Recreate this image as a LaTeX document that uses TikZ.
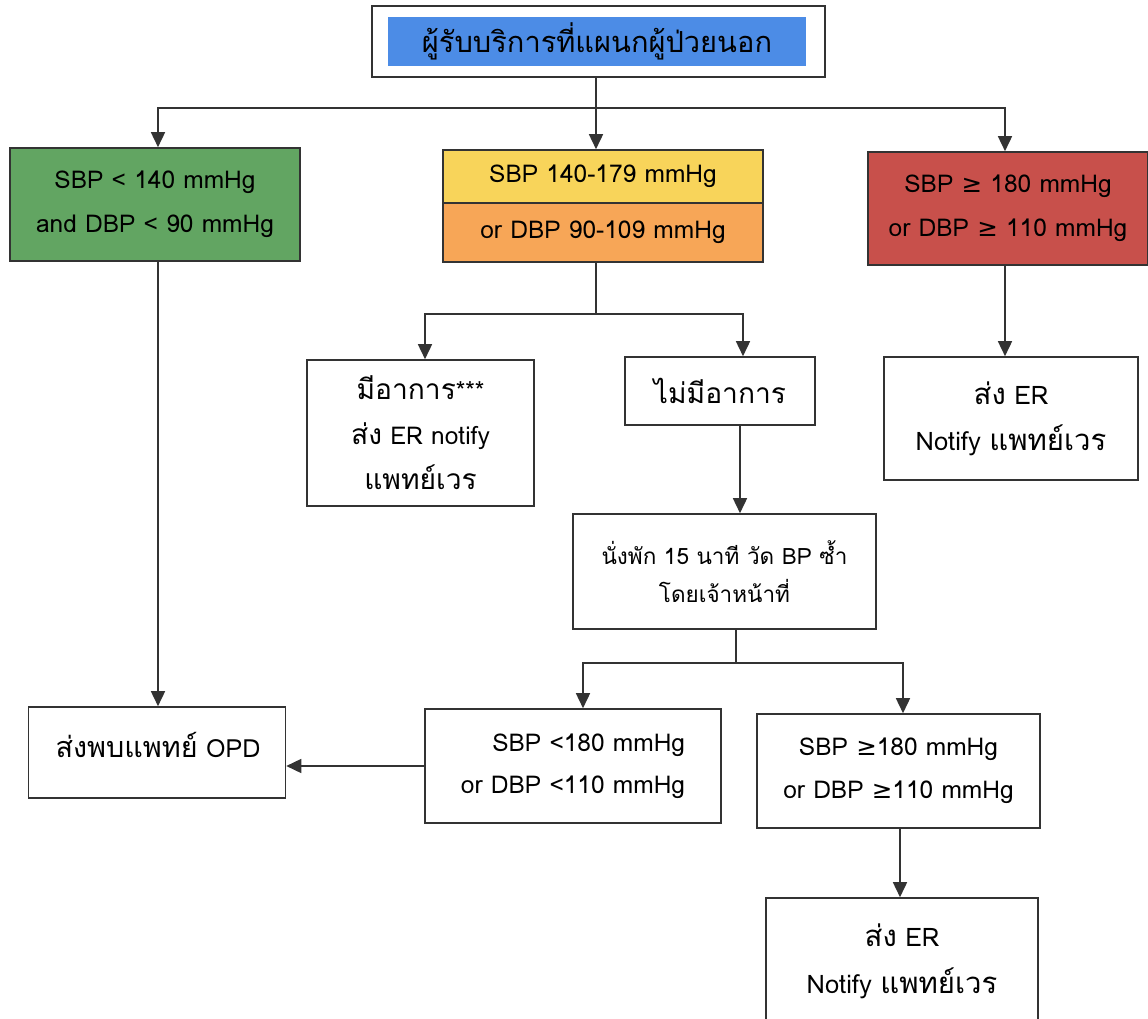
\documentclass[tikz,border=0pt]{standalone}
\usepackage{fontspec}
\setmainfont[Script=Thai]{Loma}
\newfontfamily\thaibig[Script=Thai,Scale=1.15]{Loma}
\newfontfamily\symfont{DejaVu Sans}
\usetikzlibrary{arrows.meta,calc}
\newcommand{\gesym}{{\symfont ≥}}
\newcommand{\tth}[1]{{\thaibig #1}}
\definecolor{linec}{HTML}{333333}
\definecolor{hdrblue}{HTML}{4C8CE6}
\definecolor{lowgreen}{HTML}{62A562}
\definecolor{midyellow}{HTML}{F8D45A}
\definecolor{midorange}{HTML}{F7A657}
\definecolor{highred}{HTML}{C8504B}
\tikzset{
  box/.style={draw=linec, line width=1.6pt, fill=white, align=center, inner sep=0pt,
    font=\fontsize{24.5}{42}\selectfont},
  arr/.style={draw=linec, line width=1.6pt, -{Triangle[length=15pt,width=14pt]}},
  conn/.style={draw=linec, line width=1.6pt},
}
\begin{document}
\begin{tikzpicture}[x=1pt,y=-1pt]
\useasboundingbox (0,0) rectangle (1148,1019);
\clip (0,0) rectangle (1148,1019);
\fill[white] (0,0) rectangle (1148,1019);

% header
\node[box, minimum width=453pt, minimum height=71pt] (top) at (598.5,41.5) {};
\node[fill=hdrblue, minimum width=418pt, minimum height=49pt, inner sep=0pt,
      font=\fontsize{29}{34}\selectfont] (toptext) at (597,41.5) {ผู้รับบริการที่แผนกผู้ป่วยนอก};

% first level
\node[box, fill=lowgreen, minimum width=290pt, minimum height=113pt,
      font=\fontsize{24.5}{44}\selectfont] (low) at (155,204.5)
  {SBP < 140 mmHg\\and DBP < 90 mmHg};
\node[box, fill=midyellow, minimum width=320pt, minimum height=53pt] (mid1) at (603,176.5)
  {SBP 140-179 mmHg};
\node[box, fill=midorange, minimum width=320pt, minimum height=59pt] (mid2) at (603,232.5)
  {or DBP 90-109 mmHg};
\node[box, fill=highred, minimum width=280pt, minimum height=113pt,
      font=\fontsize{24.5}{44}\selectfont] (high) at (1008,208.5)
  {SBP \gesym{} 180 mmHg\\or DBP \gesym{} 110 mmHg};

% second level
\node[box, minimum width=227pt, minimum height=146pt,
      font=\fontsize{24.5}{45}\selectfont] (symp) at (420.5,433)
  {\tth{มีอาการ}***\\\tth{ส่ง} ER notify\\\tth{แพทย์เวร}};
\node[box, minimum width=190pt, minimum height=68pt] (nosymp) at (720,391)
  {\tth{ไม่มีอาการ}};
\node[box, minimum width=254pt, minimum height=123pt,
      font=\fontsize{25.5}{46}\selectfont] (erhigh) at (1011,418.5)
  {\tth{ส่ง} ER\\Notify \tth{แพทย์เวร}};

% re-measure
\node[box, minimum width=303pt, minimum height=115pt,
      font=\fontsize{22.5}{38}\selectfont] (rest) at (724.5,571.5)
  {นั่งพัก 15 นาที วัด BP ซ้ำ\\โดยเจ้าหน้าที่};

% outcomes
\node[box, minimum width=257pt, minimum height=91pt] (opd) at (157,752.5) {};
\node[inner sep=0pt, font=\fontsize{25}{42}\selectfont] (opdtext) at (158,745)
  {\tth{ส่งพบแพทย์} OPD};
\node[box, align=right, minimum width=296pt, minimum height=114pt,
      font=\fontsize{24.5}{42}\selectfont] (below) at (573,766)
  {SBP <180 mmHg\\or DBP <110 mmHg};
\node[box, minimum width=283pt, minimum height=114pt,
      font=\fontsize{24.5}{43}\selectfont] (above) at (898.5,771)
  {SBP \gesym180 mmHg\\or DBP \gesym110 mmHg};
\node[box, minimum width=272pt, minimum height=126pt,
      font=\fontsize{25.5}{47}\selectfont] (erlow) at (902,961)
  {\tth{ส่ง} ER\\Notify \tth{แพทย์เวร}};

% connectors
\coordinate (j1) at (596,108);
\draw[conn] (top.south -| j1) -- (j1);
\draw[arr] (j1) -| ($(low.north)+(3,0)$);
\draw[arr] (j1) -- (mid1.north -| j1);
\draw[arr] (j1) -| ($(high.north)+(-3,0)$);

\draw[arr] ($(low.south)+(3,0)$) -- ($(opd.north)+(1,0)$);

\coordinate (j2) at (596,314);
\draw[conn] (mid2.south -| j2) -- (j2);
\draw[arr] (j2) -| ($(symp.north)+(4.5,0)$);
\draw[arr] (j2) -| ($(nosymp.north)+(23,0)$);

\draw[arr] ($(high.south)+(-3,0)$) -- ($(erhigh.north)+(-6,0)$);
\draw[arr] ($(nosymp.south)+(20,0)$) -- ($(rest.north)+(15.5,0)$);

\coordinate (j3) at (736,663);
\draw[conn] (rest.south -| j3) -- (j3);
\draw[arr] (j3) -| ($(below.north)+(10,0)$);
\draw[arr] (j3) -| ($(above.north)+(4.5,0)$);

\draw[arr] (below.west) -- (opd.east |- below.west);
\draw[arr] ($(above.south)+(1.5,0)$) -- ($(erlow.north)+(-2,0)$);
\end{tikzpicture}
\end{document}
